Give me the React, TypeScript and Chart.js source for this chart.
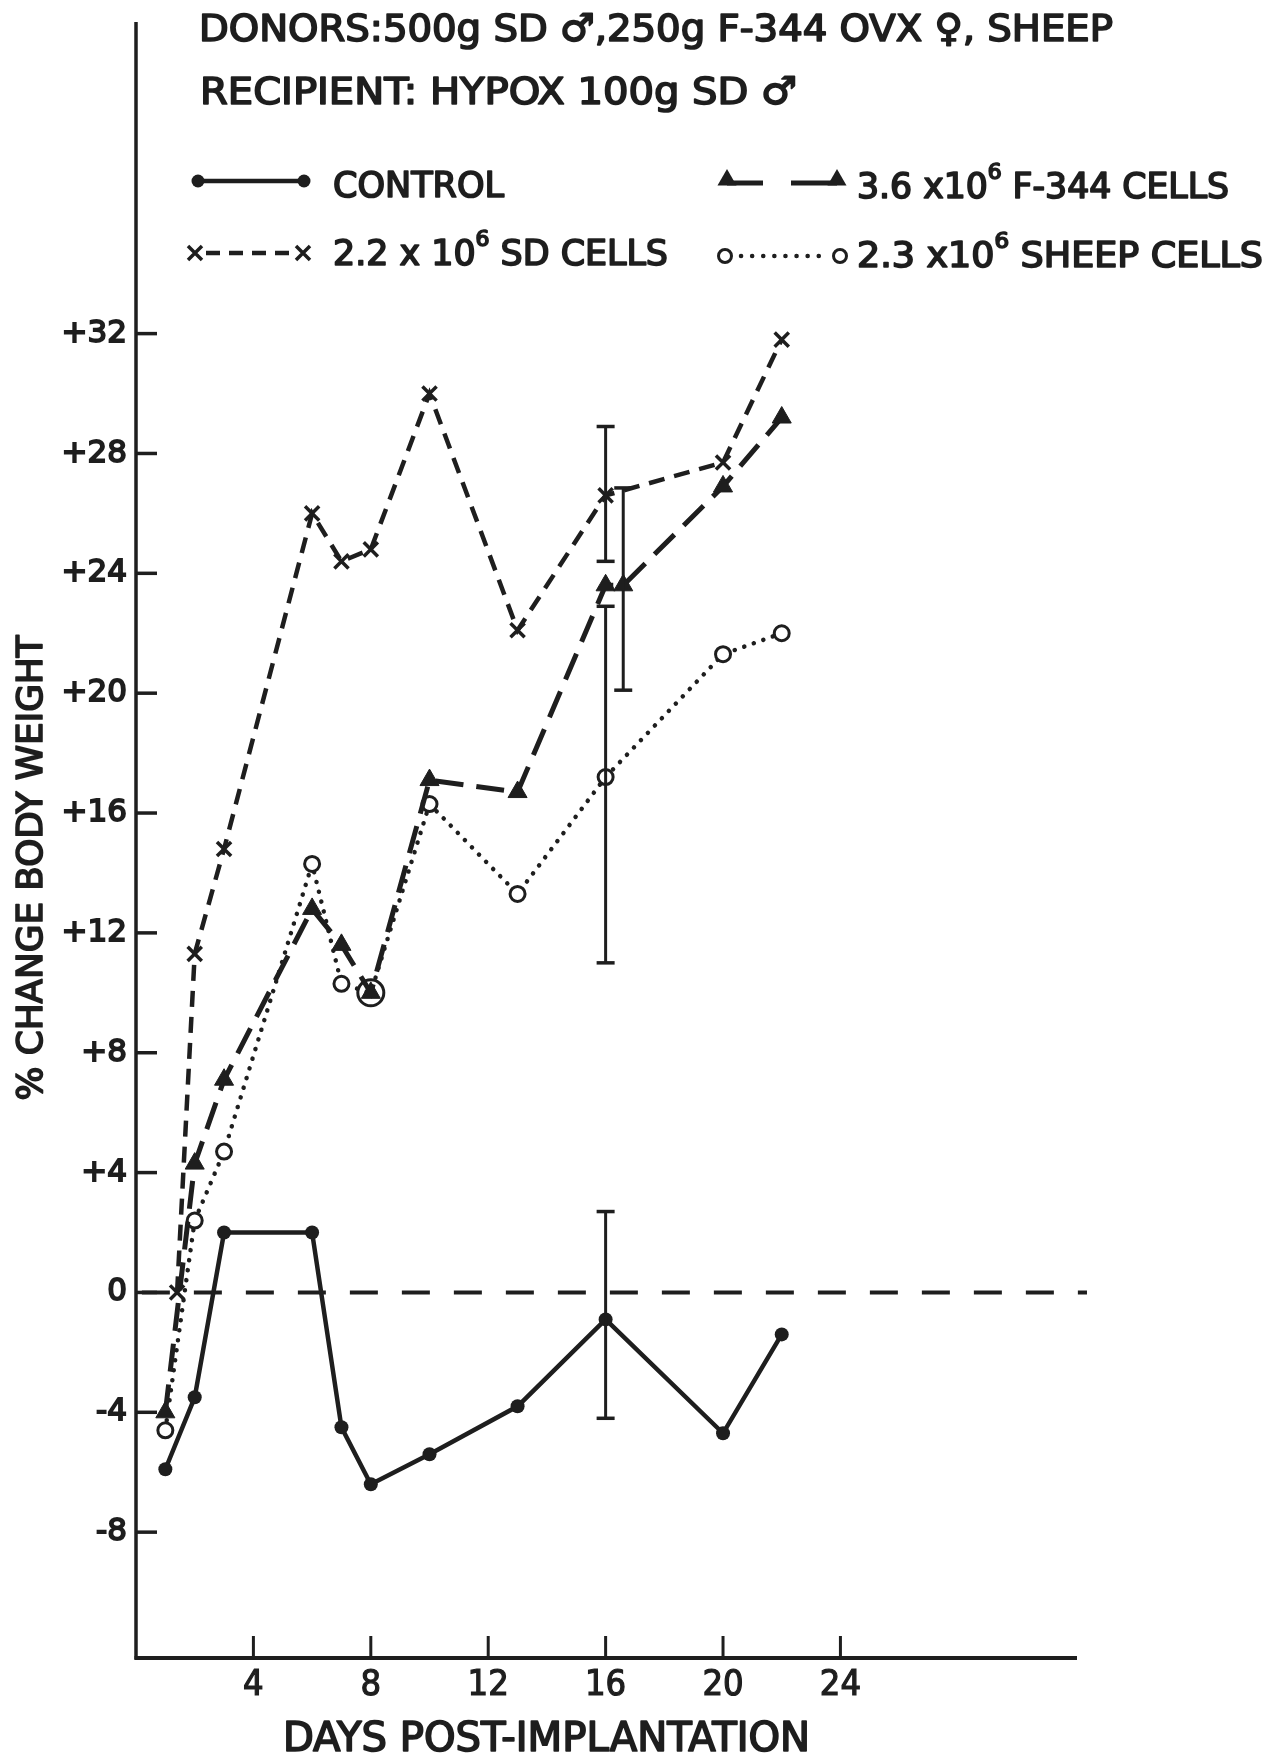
import { useEffect, useRef } from 'react';
import { Chart, registerables } from 'chart.js';

Chart.register(...registerables);

// ---- data ----
const controlDays = [1, 2, 3, 6, 7, 8, 10, 13, 16, 20, 22];
const controlValues = [-5.9, -3.5, 2.0, 2.0, -4.5, -6.4, -5.4, -3.8, -0.9, -4.7, -1.4];

const sdDays = [1.4, 2, 3, 6, 7, 8, 10, 13, 16, 20, 22];
const sdValues = [0, 11.3, 14.8, 26.0, 24.4, 24.8, 30.0, 22.1, 26.6, 27.7, 31.8];

const f344Days = [1, 2, 3, 6, 7, 8, 10, 13, 16, 16.6, 20, 22];
const f344Values = [-4.0, 4.3, 7.1, 12.8, 11.6, 10.0, 17.1, 16.7, 23.6, 23.6, 26.9, 29.2];

const sheepDays = [1, 2, 3, 6, 7, 8, 10, 13, 16, 20, 22];
const sheepValues = [-4.6, 2.4, 4.7, 14.3, 10.3, 10.0, 16.3, 13.3, 17.2, 21.3, 22.0];

const errorBarDays = [16, 16, 16.6, 16];
const errorBarLow = [-4.2, 24.4, 20.1, 11.0];
const errorBarHigh = [2.7, 28.9, 26.85, 22.9];

const yTicks = [-8, -4, 0, 4, 8, 12, 16, 20, 24, 28, 32];
const xTicks = [4, 8, 12, 16, 20, 24];

const headerLine1 = 'DONORS:500g SD \u2642,250g F-344 OVX \u2640, SHEEP';
const headerLine2 = 'RECIPIENT: HYPOX 100g SD \u2642';
const yTitle = '% CHANGE BODY WEIGHT';
const xTitle = 'DAYS POST-IMPLANTATION';

// ---- styling ----
const INK = '#1e1e1e';
const CONDENSED = '"DejaVu Sans Condensed", "Liberation Sans Narrow", "DejaVu Sans", sans-serif';
const WIDE = '"DejaVu Sans", Verdana, sans-serif';

type Seg = { t: string; sup?: boolean };

function drawFitted(
  ctx: CanvasRenderingContext2D,
  segs: Seg[],
  x: number,
  baseline: number,
  width: number,
  size: number,
  family: string,
  weight = 'normal'
) {
  const main = `${weight} ${size}px ${family}`;
  const sup = `${weight} ${Math.round(size * 0.62)}px ${family}`;
  let total = 0;
  const widths = segs.map((s) => {
    ctx.font = s.sup ? sup : main;
    const w = ctx.measureText(s.t).width;
    total += w;
    return w;
  });
  const sx = width / total;
  ctx.save();
  ctx.translate(x, baseline);
  ctx.scale(sx, 1);
  ctx.fillStyle = INK;
  ctx.strokeStyle = INK;
  ctx.lineWidth = 1.6;
  ctx.lineJoin = 'round';
  ctx.textAlign = 'left';
  ctx.textBaseline = 'alphabetic';
  let cx = 0;
  segs.forEach((s, i) => {
    ctx.font = s.sup ? sup : main;
    const yy = s.sup ? -size * 0.55 : 0;
    ctx.fillText(s.t, cx, yy);
    ctx.strokeText(s.t, cx, yy);
    cx += widths[i];
  });
  ctx.restore();
}

function dot(ctx: CanvasRenderingContext2D, x: number, y: number, r: number) {
  ctx.beginPath();
  ctx.arc(x, y, r, 0, Math.PI * 2);
  ctx.fillStyle = INK;
  ctx.fill();
}
function ring(ctx: CanvasRenderingContext2D, x: number, y: number, r: number) {
  ctx.beginPath();
  ctx.arc(x, y, r, 0, Math.PI * 2);
  ctx.fillStyle = '#fff';
  ctx.fill();
  ctx.lineWidth = 3;
  ctx.strokeStyle = INK;
  ctx.stroke();
}
function cross(ctx: CanvasRenderingContext2D, x: number, y: number, r: number) {
  ctx.beginPath();
  ctx.moveTo(x - r * 0.7, y - r * 0.7);
  ctx.lineTo(x + r * 0.7, y + r * 0.7);
  ctx.moveTo(x + r * 0.7, y - r * 0.7);
  ctx.lineTo(x - r * 0.7, y + r * 0.7);
  ctx.lineWidth = 3.5;
  ctx.strokeStyle = INK;
  ctx.stroke();
}
function tri(ctx: CanvasRenderingContext2D, x: number, y: number, r: number) {
  ctx.beginPath();
  for (let i = 0; i < 3; i++) {
    const a = (i * 2 * Math.PI) / 3;
    const px = x + Math.sin(a) * r;
    const py = y - Math.cos(a) * r;
    if (i === 0) ctx.moveTo(px, py);
    else ctx.lineTo(px, py);
  }
  ctx.closePath();
  ctx.fillStyle = INK;
  ctx.fill();
}
function seg(
  ctx: CanvasRenderingContext2D,
  x1: number,
  y1: number,
  x2: number,
  y2: number,
  w: number,
  dash: number[] = [],
  cap: CanvasLineCap = 'butt'
) {
  ctx.save();
  ctx.beginPath();
  ctx.setLineDash(dash);
  ctx.lineCap = cap;
  ctx.moveTo(x1, y1);
  ctx.lineTo(x2, y2);
  ctx.lineWidth = w;
  ctx.strokeStyle = INK;
  ctx.stroke();
  ctx.restore();
}

const decorPlugin = {
  id: 'decor',
  afterDatasetsDraw(chart: any) {
    const ctx: CanvasRenderingContext2D = chart.ctx;
    const { left, right, top, bottom } = chart.chartArea;
    const xs = chart.scales.x;
    const ys = chart.scales.y;

    // axes
    seg(ctx, left, top, left, bottom + 1.5, 3.5);
    seg(ctx, left - 1.5, bottom, right, bottom, 4);
    // inward tick marks
    yTicks.forEach((v) => {
      const py = ys.getPixelForValue(v);
      seg(ctx, left, py, left + 21, py, 3.5);
    });
    xTicks.forEach((v) => {
      const px = xs.getPixelForValue(v);
      seg(ctx, px, bottom, px, bottom - 22, 3);
    });

    // error bars
    errorBarDays.forEach((d, i) => {
      const px = xs.getPixelForValue(d);
      const p1 = ys.getPixelForValue(errorBarLow[i]);
      const p2 = ys.getPixelForValue(errorBarHigh[i]);
      seg(ctx, px, p1, px, p2, 3);
      seg(ctx, px - 9, p1, px + 9, p1, 3.5);
      seg(ctx, px - 9, p2, px + 9, p2, 3.5);
    });
  },
  afterDraw(chart: any) {
    const ctx: CanvasRenderingContext2D = chart.ctx;

    // header
    drawFitted(ctx, [{ t: headerLine1 }], 199, 41, 914, 38, CONDENSED);
    drawFitted(ctx, [{ t: headerLine2 }], 200, 104, 597, 38, CONDENSED);

    // legend samples
    seg(ctx, 198, 181, 304, 181, 4.5);
    dot(ctx, 198, 181, 6.5);
    dot(ctx, 304, 181, 6.5);

    seg(ctx, 727, 183, 763, 183, 5);
    seg(ctx, 791, 183, 837, 183, 5);
    tri(ctx, 727, 180, 11);
    tri(ctx, 837, 180, 11);

    seg(ctx, 206, 253, 294, 253, 4.5, [14, 9]);
    cross(ctx, 195, 253, 10);
    cross(ctx, 303, 253, 10);

    seg(ctx, 741, 256, 828, 256, 4.5, [0.1, 11], 'round');
    ring(ctx, 725, 256, 6.5);
    ring(ctx, 840, 256, 6.5);

    // legend text
    drawFitted(ctx, [{ t: 'CONTROL' }], 333, 197, 171, 35, CONDENSED);
    drawFitted(ctx, [{ t: '3.6 x10' }, { t: '6', sup: true }, { t: ' F-344 CELLS' }], 857, 198, 372, 35, CONDENSED);
    drawFitted(ctx, [{ t: '2.2 x 10' }, { t: '6', sup: true }, { t: ' SD CELLS' }], 333, 265, 335, 35, CONDENSED);
    drawFitted(ctx, [{ t: '2.3 x10' }, { t: '6', sup: true }, { t: ' SHEEP CELLS' }], 857, 267, 406, 35, CONDENSED);

    // axis titles
    ctx.save();
    ctx.translate(42, 868 + 465 / 2);
    ctx.rotate(-Math.PI / 2);
    drawFitted(ctx, [{ t: yTitle }], 0, 0, 465, 36, CONDENSED);
    ctx.restore();
    drawFitted(ctx, [{ t: xTitle }], 283, 1751, 527, 40, CONDENSED);
  },
};

function pts(days: number[], vals: number[]) {
  return days.map((d, i) => ({ x: d, y: vals[i] }));
}

export default function App() {
  const ref = useRef<HTMLCanvasElement>(null);

  useEffect(() => {
    const canvas = ref.current;
    if (!canvas) return;

    const sheepRadius = sheepValues.map((_, i) => (i === 5 ? 13 : 7.5));
    const sheepFill = sheepValues.map((_, i) => (i === 5 ? 'rgba(0,0,0,0)' : '#ffffff'));

    const chart = new Chart(canvas, {
      type: 'line',
      data: {
        datasets: [
          {
            label: 'ZERO',
            data: [
              { x: 0.2, y: 0 },
              { x: 32.4, y: 0 },
            ],
            borderColor: INK,
            borderWidth: 4,
            borderDash: [28, 24],
            pointRadius: 0,
            clip: false as any,
          },
          {
            label: 'CONTROL',
            data: pts(controlDays, controlValues),
            borderColor: INK,
            borderWidth: 4.5,
            pointStyle: 'circle',
            pointRadius: 7,
            pointBackgroundColor: INK,
            pointBorderColor: INK,
            pointBorderWidth: 0,
            tension: 0,
          },
          {
            label: '2.2 x 10^6 SD CELLS',
            data: pts(sdDays, sdValues),
            borderColor: INK,
            borderWidth: 4.5,
            borderDash: [16, 10],
            pointStyle: 'crossRot',
            pointRadius: 10,
            pointBorderColor: INK,
            pointBorderWidth: 3.5,
            tension: 0,
          },
          {
            label: '3.6 x10^6 F-344 CELLS',
            data: pts(f344Days, f344Values),
            borderColor: INK,
            borderWidth: 5,
            borderDash: [28, 13],
            pointStyle: 'triangle',
            pointRadius: 11,
            pointBackgroundColor: INK,
            pointBorderColor: INK,
            pointBorderWidth: 1,
            tension: 0,
          },
          {
            label: '2.3 x10^6 SHEEP CELLS',
            data: pts(sheepDays, sheepValues),
            borderColor: INK,
            borderWidth: 4.5,
            borderDash: [0.1, 10],
            borderCapStyle: 'round',
            pointStyle: 'circle',
            pointRadius: sheepRadius,
            pointBackgroundColor: sheepFill,
            pointBorderColor: INK,
            pointBorderWidth: 3,
            tension: 0,
          },
        ],
      },
      options: {
        animation: false,
        responsive: false,
        maintainAspectRatio: false,
        layout: { padding: { top: 22, right: 199, left: 0, bottom: 0 } },
        plugins: {
          legend: { display: false },
          tooltip: { enabled: false },
          title: { display: false },
        },
        scales: {
          x: {
            type: 'linear',
            position: 'bottom',
            min: 0,
            max: 32.06,
            afterBuildTicks: (s: any) => {
              s.ticks = xTicks.map((v) => ({ value: v }));
            },
            afterFit: (s: any) => {
              s.height = 97;
              s.paddingLeft = 0;
              s.paddingRight = 0;
            },
            grid: { display: true, drawOnChartArea: false, drawTicks: false, color: 'rgba(0,0,0,0)' },
            border: { display: false },
            ticks: {
              autoSkip: false,
              maxRotation: 0,
              padding: 6,
              color: INK,
              textStrokeColor: INK,
              textStrokeWidth: 1.2,
              font: { family: CONDENSED, size: 36 },
              callback: (v: any) => String(v),
            },
          },
          y: {
            type: 'linear',
            min: -12.2,
            max: 42.4,
            afterBuildTicks: (s: any) => {
              s.ticks = yTicks.map((v) => ({ value: v }));
            },
            afterFit: (s: any) => {
              s.width = 136;
              s.paddingTop = 0;
              s.paddingBottom = 0;
            },
            grid: { display: true, drawOnChartArea: false, drawTicks: false, color: 'rgba(0,0,0,0)' },
            border: { display: false },
            ticks: {
              autoSkip: false,
              padding: 9,
              color: INK,
              textStrokeColor: INK,
              textStrokeWidth: 1.8,
              font: { family: WIDE, size: 31 },
              callback: (v: any) => (Number(v) > 0 ? '+' + v : String(v)),
            },
          },
        },
      },
      plugins: [decorPlugin],
    } as any);

    return () => chart.destroy();
  }, []);

  return (
    <div style={{ position: 'fixed', left: 0, top: 0, width: 1276, height: 1755, background: '#ffffff' }}>
      <canvas ref={ref} width={1276} height={1755} style={{ display: 'block', width: 1276, height: 1755 }} />
    </div>
  );
}
